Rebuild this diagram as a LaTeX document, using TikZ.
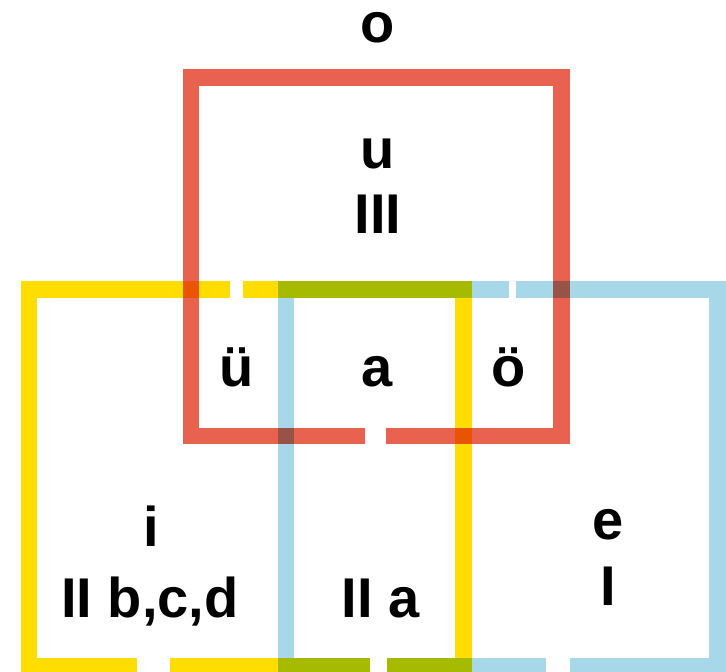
\documentclass[tikz,border=0pt]{standalone}
\usepackage{fontspec}
\setmainfont{Liberation Sans}
\usetikzlibrary{positioning}

\definecolor{boxred}{HTML}{E8624F}
\definecolor{boxyellow}{HTML}{FFDD00}
\definecolor{boxblue}{HTML}{A6D8E9}

\begin{document}
\begin{tikzpicture}[x=1pt, y=-1pt,
    every node/.style={font=\bfseries\fontsize{56}{67}\selectfont, inner sep=0pt, anchor=base},
    frame/.style={line width=16.6pt, line join=miter, line cap=butt, blend mode=multiply},
    redframe/.style={frame, boxred},
    yellowframe/.style={frame, boxyellow},
    blueframe/.style={frame, boxblue}
]
\useasboundingbox (0,0) rectangle (726,672);

% Edge positions
\def\topy{289.3}
\def\boty{666.6}

% Red square (top)
\draw[redframe] (386,436) -- (561.5,436) -- (561.5,77.3) -- (191,77.3) -- (191,436) -- (365,436);

% Yellow square (bottom left)
\draw[yellowframe] (243,\topy) -- (463.7,\topy) -- (463.7,\boty) -- (387,\boty);
\draw[yellowframe] (370.3,\boty) -- (170,\boty);
\draw[yellowframe] (137,\boty) -- (29,\boty) -- (29,\topy) -- (230,\topy);

% Blue square (bottom right)
\draw[blueframe] (516,\topy) -- (717.7,\topy) -- (717.7,\boty) -- (570,\boty);
\draw[blueframe] (546,\boty) -- (387,\boty);
\draw[blueframe] (370.3,\boty) -- (286,\boty) -- (286,\topy) -- (509,\topy);

% Labels
\node (o) at (377.7,42.7) {o};
\node (u) at (378,168) {u};
\node (three) at (378,233) {III};
\node (ue) at (236.7,386) {ü};
\node (a) at (376.7,386) {a};
\node (oe) at (508.7,386) {ö};
\node (i) at (150.8,546) {i};
\node (twobcd) at (150,617.7) {II b,c,d};
\node (twoa) at (380.8,617.7) {II a};
\node (e) at (608,539.3) {e};
\node (one) at (608.7,605) {I};
\end{tikzpicture}
\end{document}
